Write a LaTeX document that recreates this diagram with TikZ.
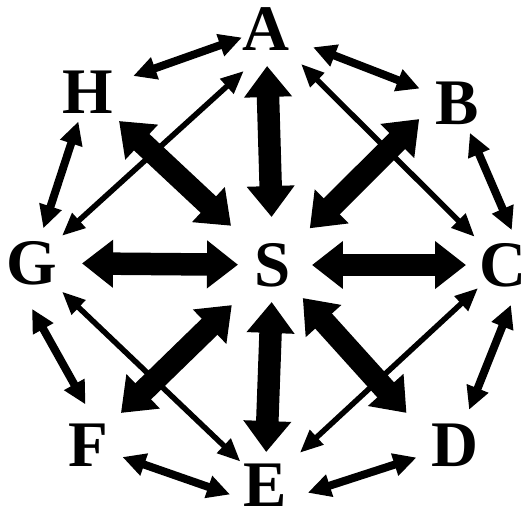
\documentclass[tikz,border=0pt]{standalone}
\usepackage{fontspec}
\setmainfont{Liberation Serif}
\usetikzlibrary{arrows.meta, calc}

\begin{document}
\begin{tikzpicture}[x=0.02cm, y=-0.02cm,
  letra/.style={font=\bfseries\fontsize{37}{37}\selectfont, inner sep=0pt},
  grossa/.style={line width=0.45cm, <->, >={Triangle[length=0.62cm, width=0.92cm]}},
  media/.style={line width=0.16cm, <->, >={Triangle[length=0.46cm, width=0.44cm]}},
  fina/.style={line width=0.11cm, <->, >={Triangle[length=0.46cm, width=0.38cm]}}]
\useasboundingbox (0,0) rectangle (526,515);

% LAYER 1: Letras (estados)
\node[letra] (A) at (266,29) {A};
\node[letra] (B) at (457,103) {B};
\node[letra] (C) at (503,265) {C};
\node[letra] (D) at (455,445) {D};
\node[letra] (E) at (265,485) {E};
\node[letra] (F) at (88,445) {F};
\node[letra] (G) at (32,263) {G};
\node[letra] (H) at (88,92) {H};
\node[letra] (S) at (273,265) {S};

% LAYER 2: Setas grossas (S com todos)
\draw[grossa, shorten <=0.96cm, shorten >=0.74cm] (S.center) -- (A.center);
\draw[grossa, shorten <=1.04cm, shorten >=1.07cm] (S.center) -- (B.north);
\draw[grossa, shorten <=0.78cm, shorten >=0.74cm] (S.center) -- (C.center);
\draw[grossa, shorten <=0.89cm, shorten >=1.45cm] (S.center) -- (D.south);
\draw[grossa, shorten <=0.74cm, shorten >=0.66cm] (S.center) -- (E.center);
\draw[grossa, shorten <=1.15cm, shorten >=0.92cm] (S.center) -- (F.center);
\draw[grossa, shorten <=0.70cm, shorten >=1.00cm] (S.center) -- (G.center);
\draw[grossa, shorten <=1.15cm, shorten >=0.85cm] (S.center) -- (H.center);

% LAYER 3: Setas medias (octogono)
\draw[media, shorten <=0.96cm, shorten >=0.51cm] (H.center) -- (A.center);
\draw[media, shorten <=1.01cm, shorten >=0.80cm] (A.center) -- (B.center);
\draw[media, shorten <=0.65cm, shorten >=0.76cm] (B.center) -- (C.east);
\draw[media, shorten <=0.86cm, shorten >=0.76cm] (C.east) -- (D.center);
\draw[media, shorten <=0.90cm, shorten >=0.81cm] (E.south) -- (D.center);
\draw[media, shorten <=0.73cm, shorten >=0.74cm] (F.center) -- (E.south);
\draw[media, shorten <=1.05cm, shorten >=0.93cm] (G.west) -- (F.east);
\draw[media, shorten <=0.62cm, shorten >=0.73cm] (H.center) -- (G.center);

% LAYER 4: Setas finas (quadrado)
\draw[fina, shorten <=0.60cm, shorten >=0.81cm] (A.south) -- (G.center);
\draw[fina, shorten <=0.99cm, shorten >=0.80cm] (A.center) -- (C.center);
\draw[fina, shorten <=0.83cm, shorten >=0.68cm] (G.center) -- (E.center);
\draw[fina, shorten <=0.68cm, shorten >=0.95cm] (C.center) -- (E.center);
\end{tikzpicture}
\end{document}
